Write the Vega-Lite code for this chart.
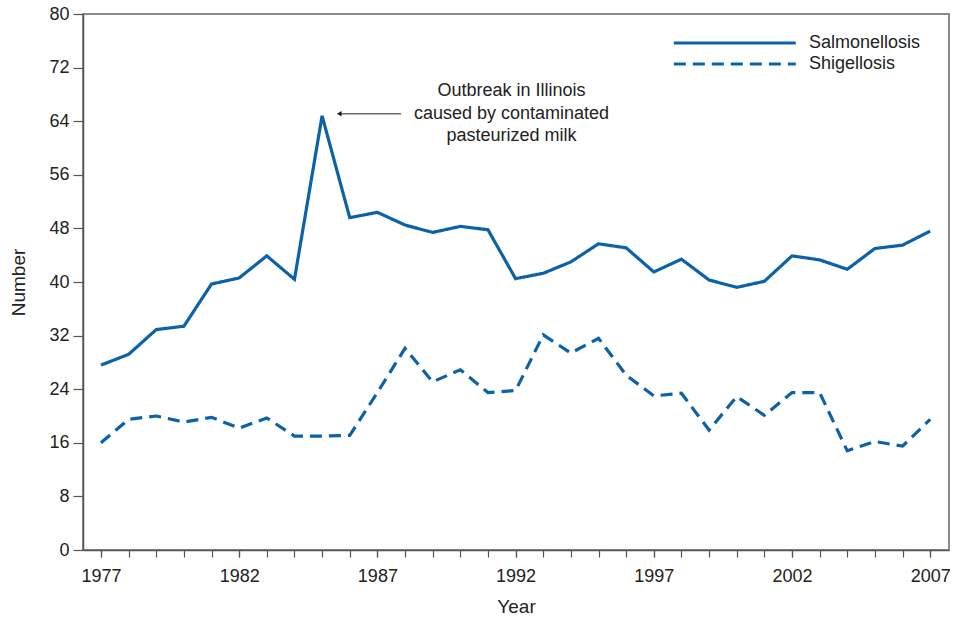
{
  "$schema": "https://vega.github.io/schema/vega-lite/v6.json",
  "width": 866,
  "height": 536,
  "autosize": "none",
  "padding": {"left": 83, "top": 14, "right": 4, "bottom": 67},
  "background": "white",
  "config": {
    "font": "Liberation Sans",
    "view": {"stroke": "#666666", "strokeWidth": 1.5},
    "axis": {
      "grid": false,
      "domainColor": "#555555",
      "domainWidth": 1.5,
      "tickColor": "#555555",
      "tickWidth": 1.2,
      "labelColor": "#222222",
      "titleColor": "#222222",
      "labelFont": "Liberation Sans",
      "titleFont": "Liberation Sans",
      "labelFontSize": 18,
      "titleFontSize": 19,
      "titleFontWeight": "normal"
    }
  },
  "resolve": {"axis": {"x": "independent"}},
  "datasets": {
    "cases": [
      {"year": 1977, "disease": "Salmonellosis", "number": 27.6},
      {"year": 1978, "disease": "Salmonellosis", "number": 29.2},
      {"year": 1979, "disease": "Salmonellosis", "number": 32.9},
      {"year": 1980, "disease": "Salmonellosis", "number": 33.4},
      {"year": 1981, "disease": "Salmonellosis", "number": 39.7},
      {"year": 1982, "disease": "Salmonellosis", "number": 40.6},
      {"year": 1983, "disease": "Salmonellosis", "number": 43.9},
      {"year": 1984, "disease": "Salmonellosis", "number": 40.4},
      {"year": 1985, "disease": "Salmonellosis", "number": 64.8},
      {"year": 1986, "disease": "Salmonellosis", "number": 49.6},
      {"year": 1987, "disease": "Salmonellosis", "number": 50.4},
      {"year": 1988, "disease": "Salmonellosis", "number": 48.5},
      {"year": 1989, "disease": "Salmonellosis", "number": 47.4},
      {"year": 1990, "disease": "Salmonellosis", "number": 48.3},
      {"year": 1991, "disease": "Salmonellosis", "number": 47.8},
      {"year": 1992, "disease": "Salmonellosis", "number": 40.5},
      {"year": 1993, "disease": "Salmonellosis", "number": 41.3},
      {"year": 1994, "disease": "Salmonellosis", "number": 43.0},
      {"year": 1995, "disease": "Salmonellosis", "number": 45.7},
      {"year": 1996, "disease": "Salmonellosis", "number": 45.1},
      {"year": 1997, "disease": "Salmonellosis", "number": 41.5},
      {"year": 1998, "disease": "Salmonellosis", "number": 43.4},
      {"year": 1999, "disease": "Salmonellosis", "number": 40.3},
      {"year": 2000, "disease": "Salmonellosis", "number": 39.2},
      {"year": 2001, "disease": "Salmonellosis", "number": 40.1},
      {"year": 2002, "disease": "Salmonellosis", "number": 43.9},
      {"year": 2003, "disease": "Salmonellosis", "number": 43.3},
      {"year": 2004, "disease": "Salmonellosis", "number": 41.9},
      {"year": 2005, "disease": "Salmonellosis", "number": 45.0},
      {"year": 2006, "disease": "Salmonellosis", "number": 45.5},
      {"year": 2007, "disease": "Salmonellosis", "number": 47.6},
      {"year": 1977, "disease": "Shigellosis", "number": 16.0},
      {"year": 1978, "disease": "Shigellosis", "number": 19.5},
      {"year": 1979, "disease": "Shigellosis", "number": 20.0},
      {"year": 1980, "disease": "Shigellosis", "number": 19.1},
      {"year": 1981, "disease": "Shigellosis", "number": 19.8},
      {"year": 1982, "disease": "Shigellosis", "number": 18.2},
      {"year": 1983, "disease": "Shigellosis", "number": 19.7},
      {"year": 1984, "disease": "Shigellosis", "number": 17.0},
      {"year": 1985, "disease": "Shigellosis", "number": 17.0},
      {"year": 1986, "disease": "Shigellosis", "number": 17.1},
      {"year": 1987, "disease": "Shigellosis", "number": 23.5},
      {"year": 1988, "disease": "Shigellosis", "number": 30.1},
      {"year": 1989, "disease": "Shigellosis", "number": 25.1},
      {"year": 1990, "disease": "Shigellosis", "number": 26.9},
      {"year": 1991, "disease": "Shigellosis", "number": 23.5},
      {"year": 1992, "disease": "Shigellosis", "number": 23.8},
      {"year": 1993, "disease": "Shigellosis", "number": 32.1},
      {"year": 1994, "disease": "Shigellosis", "number": 29.4},
      {"year": 1995, "disease": "Shigellosis", "number": 31.6},
      {"year": 1996, "disease": "Shigellosis", "number": 26.1},
      {"year": 1997, "disease": "Shigellosis", "number": 23.0},
      {"year": 1998, "disease": "Shigellosis", "number": 23.4},
      {"year": 1999, "disease": "Shigellosis", "number": 17.9},
      {"year": 2000, "disease": "Shigellosis", "number": 22.9},
      {"year": 2001, "disease": "Shigellosis", "number": 20.1},
      {"year": 2002, "disease": "Shigellosis", "number": 23.5},
      {"year": 2003, "disease": "Shigellosis", "number": 23.5},
      {"year": 2004, "disease": "Shigellosis", "number": 14.8},
      {"year": 2005, "disease": "Shigellosis", "number": 16.2},
      {"year": 2006, "disease": "Shigellosis", "number": 15.5},
      {"year": 2007, "disease": "Shigellosis", "number": 19.5}
    ],
    "note": [
      {"year": 1991.85, "number": 65.1, "year2": 1987.86, "tipYear": 1985.62, "text": ["Outbreak in Illinois", "caused by contaminated", "pasteurized milk"]}
    ]
  },
  "layer": [
    {
      "data": {"name": "cases"},
      "mark": {"type": "line", "strokeWidth": 3.2, "color": "#0b62a9", "strokeCap": "butt"},
      "encoding": {
        "x": {
          "field": "year",
          "type": "quantitative",
          "scale": {"domain": [1976.35, 2007.68], "nice": false, "zero": false},
          "axis": {
            "title": "Year",
            "values": [1977, 1982, 1987, 1992, 1997, 2002, 2007],
            "format": "d",
            "labelOverlap": false,
            "labelFlush": false,
            "labelBound": false,
            "tickSize": 7,
            "labelPadding": 10,
            "titlePadding": 12
          }
        },
        "y": {
          "field": "number",
          "type": "quantitative",
          "scale": {"domain": [0, 80], "nice": false},
          "axis": {
            "title": "Number",
            "values": [0, 8, 16, 24, 32, 40, 48, 56, 64, 72, 80],
            "tickSize": 10,
            "labelPadding": 4,
            "titlePadding": 20
          }
        },
        "strokeDash": {
          "field": "disease",
          "type": "nominal",
          "scale": {"domain": ["Salmonellosis", "Shigellosis"], "range": [[1, 0], [12, 7]]},
          "legend": {
            "title": null,
            "orient": "none",
            "legendX": 589,
            "legendY": 17,
            "symbolType": "M-1,0H11",
            "symbolSize": 413,
            "symbolStrokeWidth": 3.2,
            "symbolStrokeColor": "#0b62a9",
            "symbolFillColor": "transparent",
            "labelFontSize": 18,
            "labelColor": "#222222",
            "labelFont": "Liberation Sans",
            "labelOffset": 113,
            "rowPadding": 0
          }
        }
      }
    },
    {
      "data": {"name": "note"},
      "mark": {"type": "text", "fontSize": 18, "color": "#222222", "align": "center", "baseline": "middle", "lineHeight": 22.5, "dy": -22.5, "font": "Liberation Sans"},
      "encoding": {
        "x": {
          "field": "year",
          "type": "quantitative",
          "axis": {
            "title": null,
            "values": [1977,1978,1979,1980,1981,1982,1983,1984,1985,1986,1987,1988,1989,1990,1991,1992,1993,1994,1995,1996,1997,1998,1999,2000,2001,2002,2003,2004,2005,2006,2007],
            "labels": false,
            "domain": false,
            "tickSize": 7,
            "orient": "bottom"
          }
        },
        "y": {"field": "number", "type": "quantitative"},
        "text": {"field": "text"}
      }
    },
    {
      "data": {"name": "note"},
      "mark": {"type": "rule", "color": "#222222", "strokeWidth": 1},
      "encoding": {
        "x": {"field": "year2", "type": "quantitative", "axis": null},
        "x2": {"field": "tipYear"},
        "y": {"field": "number", "type": "quantitative"}
      }
    },
    {
      "data": {"name": "note"},
      "mark": {"type": "point", "shape": "triangle-left", "filled": true, "color": "#222222", "size": 30, "opacity": 1},
      "encoding": {
        "x": {"field": "tipYear", "type": "quantitative", "axis": null},
        "y": {"field": "number", "type": "quantitative"}
      }
    }
  ]
}
